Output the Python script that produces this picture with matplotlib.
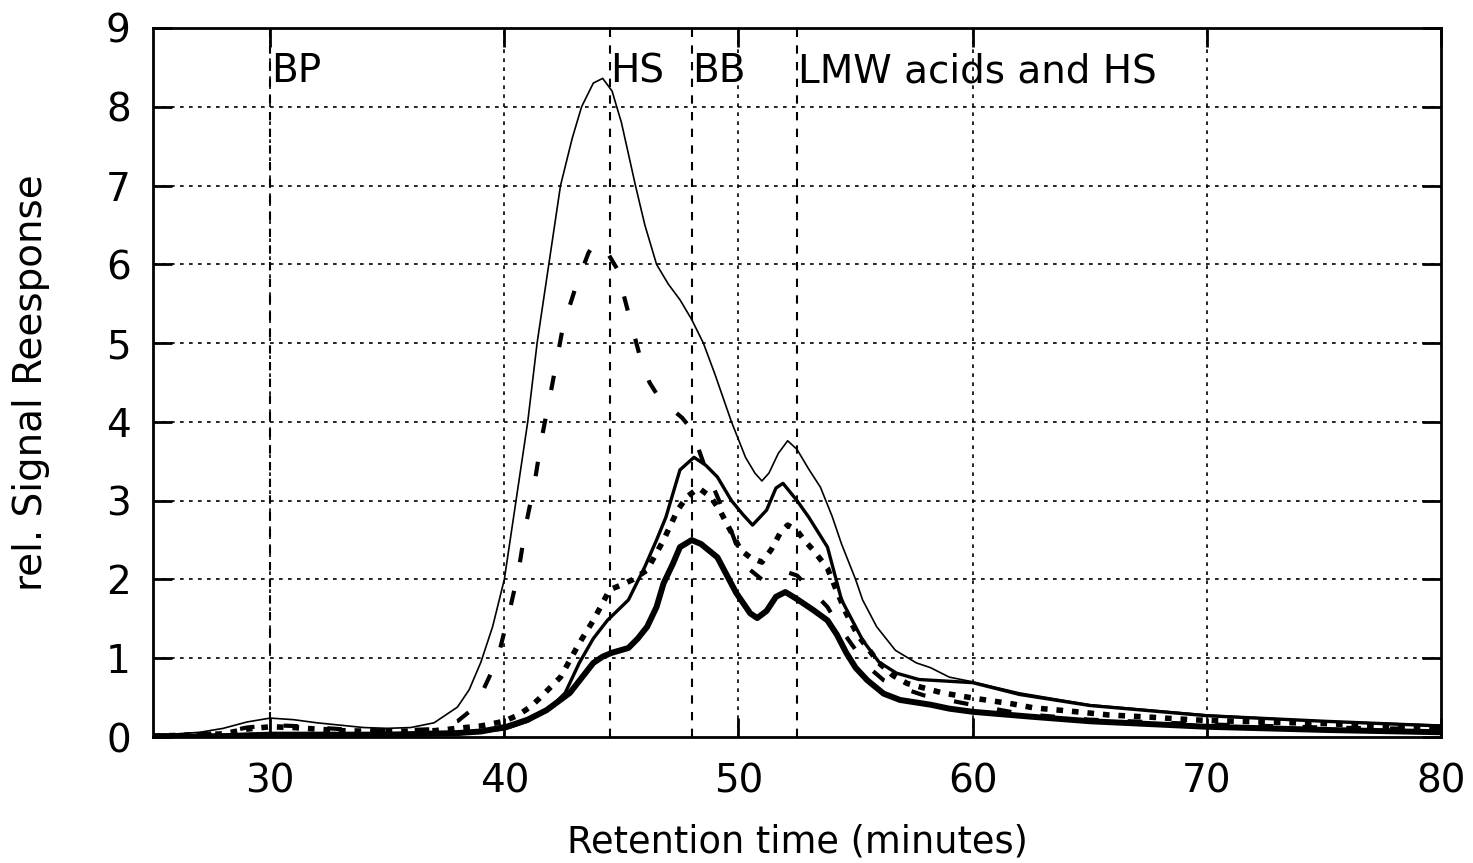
import matplotlib
matplotlib.use("Agg")
import matplotlib.pyplot as plt

# retention time (min) and relative response
t_thin = [25, 26, 27, 28, 29, 30, 31, 32, 33, 34, 35, 36, 37, 38, 38.5, 39, 39.5, 40, 40.5, 41,
          41.4, 41.9, 42.4, 42.9, 43.3, 43.8, 44.2, 44.6, 45.0, 45.6, 46.0, 46.5, 47.0, 47.5, 48.0,
          48.5, 49.0, 49.7, 50.3, 50.7, 51.0, 51.3, 51.7, 52.1, 52.5, 53.0, 53.5, 54.0, 54.4, 55.0,
          55.3, 55.9, 56.7, 57.6, 58.2, 59.0, 60, 62, 65, 70, 75, 80]
v_thin = [0.03, 0.04, 0.06, 0.11, 0.19, 0.24, 0.22, 0.18, 0.15, 0.12, 0.11, 0.12, 0.18, 0.38, 0.6,
          0.95, 1.4, 2.0, 3.0, 4.0, 5.0, 6.0, 7.0, 7.6, 8.0, 8.3, 8.36, 8.2, 7.8, 7.0, 6.5, 6.0, 5.75,
          5.55, 5.3, 5.0, 4.6, 4.0, 3.55, 3.35, 3.25, 3.35, 3.6, 3.76, 3.65, 3.4, 3.17, 2.8, 2.45,
          2.0, 1.74, 1.4, 1.1, 0.94, 0.88, 0.76, 0.70, 0.56, 0.41, 0.28, 0.2, 0.15]

t_med = [25, 30, 35, 38, 40, 41, 42, 42.6, 43.2, 43.8, 44.4, 45.3, 46.0, 46.5, 46.9, 47.5, 48.1,
         48.6, 49.1, 49.7, 50.2, 50.6, 51.2, 51.6, 51.9, 52.5, 53.0, 53.8, 54.4, 55.3, 56.0, 56.75,
         57.7, 60, 62, 65, 70, 75, 80]
v_med = [0.0, 0.04, 0.03, 0.04, 0.1, 0.2, 0.38, 0.56, 0.94, 1.25, 1.48, 1.74, 2.16, 2.5, 2.79, 3.39,
         3.55, 3.45, 3.3, 3.0, 2.82, 2.69, 2.88, 3.16, 3.22, 3.0, 2.79, 2.41, 1.74, 1.23, 0.95, 0.81,
         0.73, 0.69, 0.54, 0.40, 0.27, 0.2, 0.14]

t_dash = [25, 27, 28, 29, 30, 31, 32, 33, 35, 37, 38, 38.5, 38.9, 39.7, 40.2, 40.6, 40.9, 41.3,
          41.6, 42.0, 42.5, 43.1, 43.6, 43.9, 44.3, 44.8, 45.3, 45.8, 46.2, 46.6, 47.2, 47.6, 48.0,
          48.6, 49.4, 50.0, 50.5, 51.0, 51.5, 52.0, 52.5, 53.0, 53.8, 54.3, 54.8, 55.5, 56.2, 57.0,
          57.9, 59.6, 61.6, 63, 65, 70, 75, 80]
v_dash = [0.02, 0.03, 0.06, 0.12, 0.15, 0.14, 0.12, 0.1, 0.08, 0.1, 0.2, 0.32, 0.47, 0.98, 1.57,
          2.09, 2.66, 3.24, 3.8, 4.4, 5.2, 5.76, 6.15, 6.28, 6.2, 5.95, 5.38, 4.82, 4.5, 4.31, 4.15,
          4.05, 3.9, 3.4, 2.84, 2.37, 2.12, 2.0, 2.03, 2.1, 2.05, 1.9, 1.65, 1.4, 1.19, 0.9, 0.72,
          0.62, 0.53, 0.43, 0.32, 0.27, 0.22, 0.16, 0.12, 0.1]

t_dot = [25, 28, 29, 30, 31, 32, 33, 35, 37, 39, 40, 40.6, 41.1, 41.5, 42.4, 43.2, 43.8, 44.5,
         45.0, 45.5, 46.1, 46.8, 47.4, 47.8, 48.3, 48.8, 49.2, 49.6, 50.1, 50.5, 51.0, 51.4, 51.8,
         52.1, 52.5, 52.8, 53.2, 53.8, 54.2, 54.6, 55.1, 56.0, 56.6, 57.2, 58.7, 60.1, 61.7, 62.6,
         64.1, 65.8, 67.7, 68.7, 70, 75, 80]
v_dot = [0.01, 0.04, 0.1, 0.13, 0.12, 0.1, 0.08, 0.07, 0.08, 0.14, 0.2, 0.28, 0.38, 0.49, 0.76,
         1.19, 1.48, 1.87, 1.93, 2.0, 2.12, 2.5, 2.88, 3.05, 3.16, 3.05, 2.88, 2.65, 2.37, 2.28,
         2.22, 2.38, 2.6, 2.69, 2.62, 2.5, 2.37, 2.14, 1.85, 1.57, 1.29, 0.94, 0.78, 0.68, 0.56,
         0.49, 0.42, 0.37, 0.33, 0.28, 0.25, 0.23, 0.21, 0.17, 0.11]

t_thick = [25, 28, 30, 35, 38, 39, 40.1, 41.0, 41.8, 42.8, 43.3, 43.8, 44.2, 44.6, 45.3, 45.7,
           46.1, 46.5, 46.8, 47.2, 47.5, 48.0, 48.4, 49.1, 49.9, 50.5, 50.8, 51.2, 51.6, 52.0, 52.5,
           53.2, 53.8, 54.2, 54.6, 55.0, 55.5, 56.2, 56.9, 58.2, 59, 60, 62.4, 65, 70, 75, 80]
v_thick = [0.0, 0.01, 0.03, 0.03, 0.05, 0.07, 0.13, 0.22, 0.34, 0.56, 0.75, 0.94, 1.02, 1.07, 1.13,
           1.25, 1.4, 1.65, 1.95, 2.2, 2.41, 2.5, 2.45, 2.28, 1.83, 1.57, 1.51, 1.6, 1.78, 1.84,
           1.75, 1.61, 1.48, 1.3, 1.07, 0.88, 0.72, 0.55, 0.47, 0.41, 0.36, 0.32, 0.26, 0.2, 0.13,
           0.09, 0.06]

fraction_x = [30, 44.5, 48.0, 52.5]
fraction_names = ["BP", "HS", "BB", "LMW acids and HS"]

plt.rcParams['font.family'] = ['DejaVu Sans']
fig = plt.figure(figsize=(14.73, 8.63), dpi=100)
ax = fig.add_axes([0.1039, 0.146, 0.8744, 0.8216])

ax.set_xlim(25, 80)
ax.set_ylim(0, 9)
ax.set_xticks([30, 40, 50, 60, 70, 80])
ax.set_yticks(range(0, 10))

# dotted grid
for gx in [30, 40, 50, 60, 70]:
    ax.axvline(gx, color='black', lw=1.2, ls=(0, (2.2, 3.2)), zorder=1)
for gy in range(1, 9):
    ax.axhline(gy, color='black', lw=1.2, ls=(0, (2.2, 3.2)), zorder=1)

# fraction markers
for fx, name in zip(fraction_x, fraction_names):
    ax.axvline(fx, color='black', lw=1.5, ls=(0, (4, 4)), zorder=1)
    ax.text(fx + 0.03, 8.31, name, fontsize=28, va='baseline', ha='left')

ax.plot(t_thin, v_thin, color='black', lw=1.2, zorder=3)
ax.plot(t_med, v_med, color='black', lw=2.4, zorder=3)
ax.plot(t_dash, v_dash, color='black', lw=3, ls=(0, (3.5, 7)), zorder=3)
ax.plot(t_dot, v_dot, color='black', lw=4, ls=(0, (1.2, 1.6)), zorder=3)
ax.plot(t_thick, v_thick, color='black', lw=4.3, zorder=3)

for s in ax.spines.values():
    s.set_linewidth(2)
ax.tick_params(direction='in', length=14, width=2, top=True, right=True,
               labelsize=28, pad=18)
ax.tick_params(axis='y', pad=16)

ax.set_xlabel("Retention time (minutes)", fontsize=26.5, labelpad=17)
ax.set_ylabel("rel. Signal Reesponse", fontsize=28, labelpad=40)

fig.savefig("out.png", dpi=100)
